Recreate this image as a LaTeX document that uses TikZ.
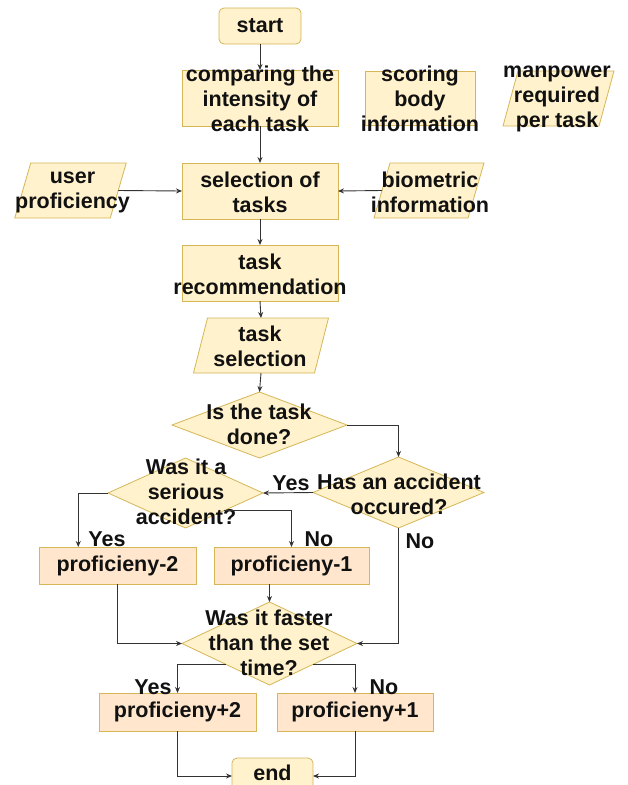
\documentclass[tikz,border=0pt]{standalone}
\usepackage{fontspec}
\setmainfont{Liberation Sans}
\usetikzlibrary{shapes.geometric,arrows.meta,calc}
\definecolor{fy}{HTML}{FFF2CC}
\definecolor{by}{HTML}{D6B656}
\definecolor{fo}{HTML}{FFE6CC}
\definecolor{bo}{HTML}{D6B656}
\definecolor{ln}{HTML}{333333}
\definecolor{tx}{HTML}{111111}
\tikzset{
 base/.style={inner sep=0pt, outer sep=0pt, line width=0.8pt},
 boxy/.style={base, draw=by, fill=fy, rectangle},
 orng/.style={base, draw=bo, fill=fo, rectangle, minimum width=156pt, minimum height=37pt},
 term/.style={boxy, rounded corners=5pt, minimum width=82pt, minimum height=36pt},
 proc/.style={boxy, minimum width=156pt, minimum height=56pt},
 dia/.style={base, draw=by, fill=fy, diamond},
 slot/.style={base, rectangle, minimum height=55pt},
 paraline/.style={draw=by, fill=fy, line width=0.8pt},
 lbl/.style={font=\bfseries\fontsize{21.5}{25}\selectfont, text=tx, align=center, inner sep=0pt},
 arr/.style={draw=ln, line width=0.9pt, -{Stealth[length=6pt,width=5pt]}},
}
\newcommand\paral[2]{\draw[paraline] ([xshift=#2]#1.north west) -- ([xshift=#2]#1.north east) -- ([xshift=-#2]#1.south east) -- ([xshift=-#2]#1.south west) -- cycle;}
\begin{document}
\begin{tikzpicture}[x=1pt,y=-1pt]
\useasboundingbox (0,0) rectangle (627,785);
\clip (0,0) rectangle (627,785);
\fill[white] (0,0) rectangle (627,785);

% shapes
\node[term] (start) at (260,26) {};
\node[proc] (cmp) at (260,98) {};
\node[boxy, minimum width=110pt, minimum height=54pt] (score) at (420,98) {};
\node[slot, minimum width=96pt] (man) at (558.5,98.5) {};
\paral{man}{7.5pt}
\node[proc] (sel) at (260,191) {};
\node[slot, minimum width=95.5pt] (user) at (70.5,190.5) {};
\paral{user}{8pt}
\node[slot, minimum width=94pt] (bio) at (429,190.5) {};
\paral{bio}{8pt}
\node[proc] (rec) at (260,273) {};
\node[slot, minimum width=121pt] (tsel) at (261,345.5) {};
\paral{tsel}{7pt}
\node[dia, minimum width=175pt, minimum height=66pt] (done) at (259.5,425) {};
\node[dia, minimum width=171pt, minimum height=71pt] (acc) at (398.5,492.5) {};
\node[dia, minimum width=155pt, minimum height=70pt] (ser) at (185.5,493) {};
\node[orng, minimum width=157pt] (pm2) at (117.5,565.5) {};
\node[orng, minimum width=155pt] (pm1) at (291.5,565.5) {};
\node[dia, minimum width=175pt, minimum height=83pt] (fast) at (269.5,643.5) {};
\node[orng, minimum width=157pt, minimum height=38pt] (pp2) at (177.5,712) {};
\node[orng, minimum width=156pt, minimum height=38pt] (pp1) at (355,712) {};
\node[term, minimum width=81pt] (end) at (272.5,776) {};

% texts
\node[lbl] (tStart) at (start) {start};
\node[lbl] (tCmp) at (260,99) {comparing the\\intensity of\\each task};
\node[lbl] (tScore) at (420,99) {scoring\\body\\information};
\node[lbl] (tMan) at (557,99) {manpower\\required\\per task};
\node[lbl] (tSel) at (260,192) {selection of\\tasks};
\node[lbl] (tUser) at (72.5,192) {user\\proficiency};
\node[lbl] (tBio) at (430,192) {biometric\\information};
\node[lbl] (tRec) at (260,274) {task\\recommendation};
\node[lbl] (tTsel) at (260,346) {task\\selection};
\node[lbl] (tDone) at (259,424) {Is the task\\done?};
\node[lbl] (tAcc) at (399,494) {Has an accident\\occured?};
\node[lbl] (tSer) at (186,492) {Was it a\\serious\\accident?};
\node[lbl] (tPm2) at (pm2) {proficieny-2};
\node[lbl] (tPm1) at (pm1) {proficieny-1};
\node[lbl] (tFast) at (269,643) {Was it faster\\than the set\\time?};
\node[lbl] (tPp2) at (pp2) {proficieny+2};
\node[lbl] (tPp1) at (pp1) {proficieny+1};
\node[lbl] (tEnd) at (272.5,773) {end};

% edge labels
\node[lbl] (yes1) at (291,483) {Yes};
\node[lbl] (yes2) at (107,539) {Yes};
\node[lbl] (no1) at (319,539) {No};
\node[lbl] (no2) at (420,541) {No};
\node[lbl] (yes3) at (153,687) {Yes};
\node[lbl] (no3) at (384,687) {No};

% connectors
\draw[arr] (start.south) -- (cmp.north);
\draw[arr] (cmp.south) -- (sel.north);
\draw[arr] (user.east) -- (sel.west);
\draw[arr] (bio.west) -- (sel.east);
\draw[arr] (sel.south) -- (rec.north);
\draw[arr] (rec.south) -- (tsel.north);
\draw[arr] (tsel.south) -- (done.north);
\draw[arr] (done.east) -| (acc.north);
\draw[arr] (acc.west) -- (ser.east);
\coordinate (pm2in) at ($(pm2.north west)!0.25!(pm2.north east)$);
\draw[arr] (ser.west) -| (pm2in);
\draw[arr] (ser.south east) -| (pm1.north);
\draw[arr] (acc.south) |- (fast.east);
\draw[arr] (pm2.south) |- (fast.west);
\draw[arr] (fast.north |- pm1.south) -- (fast.north);
\draw[arr] (fast.south west) -| (pp2.north);
\draw[arr] (fast.south east) -| (pp1.north);
\draw[arr] (pp2.south) |- (end.west);
\draw[arr] (pp1.south) |- (end.east);
\end{tikzpicture}
\end{document}
